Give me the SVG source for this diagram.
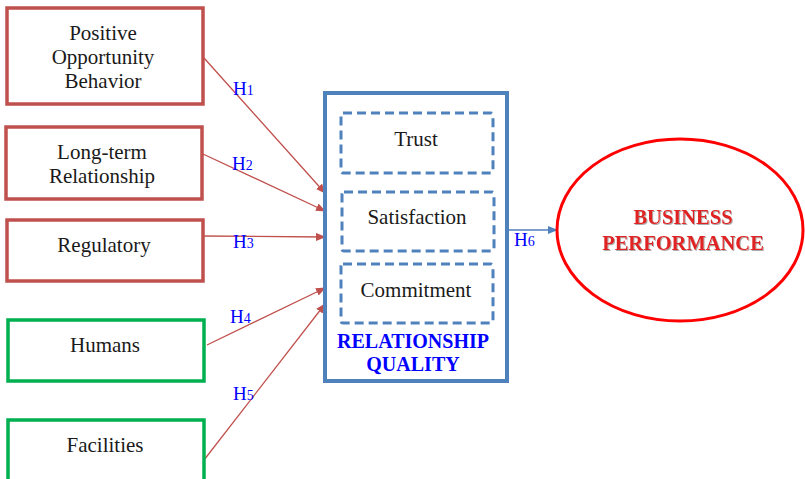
<svg xmlns="http://www.w3.org/2000/svg" width="805" height="479" viewBox="0 0 805 479">
  <defs>
    <style>
      .lbl { font-family: "Liberation Serif", "Times New Roman", serif; font-size: 21px; fill: #1a1a1a; text-anchor: middle; }
      .hyp { font-family: "Liberation Serif", "Times New Roman", serif; font-size: 19px; fill: #0000FF; }
      .sub { font-size: 14px; }
      .red-box { fill: #fff; stroke: #C0504D; stroke-width: 3.5; }
      .green-box { fill: #fff; stroke: #00B050; stroke-width: 3.5; }
      .dash-box { fill: #fff; stroke: #4F81BD; stroke-width: 3; stroke-dasharray: 9 5; }
      .link { stroke: #C0504D; stroke-width: 1.3; fill: none; }
      .rq { font-family: "Liberation Serif", "Times New Roman", serif; font-size: 20px; font-weight: bold; fill: #0000FF; text-anchor: middle; }
      .bp { font-family: "Liberation Serif", "Times New Roman", serif; font-size: 20.5px; font-weight: bold; fill: #E02020; text-anchor: middle; }
    </style>
    <marker id="arrowRed" markerWidth="10" markerHeight="8" refX="9" refY="4" orient="auto" markerUnits="userSpaceOnUse">
      <path d="M0,0 L10,4 L0,8 Z" fill="#C0504D"/>
    </marker>
    <marker id="arrowBlue" markerWidth="10" markerHeight="8" refX="9" refY="4" orient="auto" markerUnits="userSpaceOnUse">
      <path d="M0,0 L10,4 L0,8 Z" fill="#4F81BD"/>
    </marker>
    <filter id="shadow" x="-10%" y="-20%" width="120%" height="140%">
      <feDropShadow dx="1" dy="1" stdDeviation="0.6" flood-color="#888" flood-opacity="0.7"/>
    </filter>
  </defs>

  <!-- connectors -->
  <g id="connectors">
    <line class="link" x1="204" y1="58" x2="325" y2="193" marker-end="url(#arrowRed)"/>
    <line class="link" x1="203" y1="154" x2="325" y2="211" marker-end="url(#arrowRed)"/>
    <line class="link" x1="200" y1="236" x2="325" y2="237" marker-end="url(#arrowRed)"/>
    <line class="link" x1="207" y1="345" x2="325" y2="288" marker-end="url(#arrowRed)"/>
    <line class="link" x1="204" y1="460" x2="325" y2="304" marker-end="url(#arrowRed)"/>
    <line x1="508" y1="230" x2="557" y2="230" stroke="#4F81BD" stroke-width="1.3" marker-end="url(#arrowBlue)"/>
    <text class="hyp" x="233" y="95">H<tspan class="sub">1</tspan></text>
    <text class="hyp" x="232" y="170">H<tspan class="sub">2</tspan></text>
    <text class="hyp" x="233" y="248">H<tspan class="sub">3</tspan></text>
    <text class="hyp" x="230" y="323">H<tspan class="sub">4</tspan></text>
    <text class="hyp" x="233" y="400">H<tspan class="sub">5</tspan></text>
    <text class="hyp" x="514" y="246">H<tspan class="sub">6</tspan></text>
  </g>

  <g id="positive-opportunity-behavior">
    <rect class="red-box" x="7" y="8" width="196" height="96"/>
    <text class="lbl" x="103" y="40">Positive</text>
    <text class="lbl" x="103" y="64">Opportunity</text>
    <text class="lbl" x="103" y="88">Behavior</text>
  </g>

  <g id="long-term-relationship">
    <rect class="red-box" x="6" y="127" width="196" height="72"/>
    <text class="lbl" x="102" y="159">Long-term</text>
    <text class="lbl" x="102" y="183">Relationship</text>
  </g>

  <g id="regulatory">
    <rect class="red-box" x="7" y="220" width="196" height="61"/>
    <text class="lbl" x="104" y="252">Regulatory</text>
  </g>

  <g id="humans">
    <rect class="green-box" x="8" y="320" width="196" height="61"/>
    <text class="lbl" x="105" y="352">Humans</text>
  </g>

  <g id="facilities">
    <rect class="green-box" x="8" y="420" width="196" height="70"/>
    <text class="lbl" x="105" y="452">Facilities</text>
  </g>

  <g id="relationship-quality">
    <rect x="325" y="93" width="182" height="288" fill="#fff" stroke="#4F81BD" stroke-width="4"/>
    <g id="trust">
      <rect class="dash-box" x="341" y="113" width="152" height="60" rx="2"/>
      <text class="lbl" x="416" y="146">Trust</text>
    </g>
    <g id="satisfaction">
      <rect class="dash-box" x="342" y="192" width="152" height="59" rx="2"/>
      <text class="lbl" x="417" y="224">Satisfaction</text>
    </g>
    <g id="commitment">
      <rect class="dash-box" x="341" y="264" width="152" height="59" rx="2"/>
      <text class="lbl" x="416" y="297">Commitment</text>
    </g>
    <text class="rq" x="413" y="348">RELATIONSHIP</text>
    <text class="rq" x="413" y="371">QUALITY</text>
  </g>

  <g id="business-performance">
    <ellipse cx="680" cy="230" rx="123" ry="91" fill="#fff" stroke="#FF0000" stroke-width="3"/>
    <g filter="url(#shadow)">
      <text class="bp" x="683" y="224">BUSINESS</text>
      <text class="bp" x="683" y="250">PERFORMANCE</text>
    </g>
  </g>
</svg>
